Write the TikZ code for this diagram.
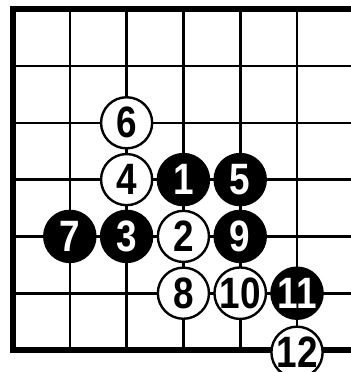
\documentclass[tikz,border=0pt]{standalone}
\usepackage{fontspec}
\newfontfamily\stonefont[FakeStretch=0.84]{Liberation Sans}

\begin{document}
\begin{tikzpicture}[x=1cm, y=1cm,
  gridline/.style={line width=1.3pt},
  boardedge/.style={line width=2.9pt, line join=miter},
  whitestone/.style={circle, draw, line width=1.2pt, fill=white, minimum size=0.9cm, inner sep=0pt,
    font=\stonefont\bfseries\fontsize{22}{22}\selectfont},
  blackstone/.style={whitestone, fill=black, text=white}]
\useasboundingbox (-0.229,-0.387) rectangle (5.933,6.162);

% Grid lines
\foreach \i in {1,...,5}
    \draw[gridline] (\i,0) -- (\i,6);
\foreach \j in {1,...,5}
    \draw[gridline] (0,\j) -- (5.95,\j);

% Board edge (bottom-left corner)
\draw[boardedge] (5.95,6) -- (0,6) -- (0,0) -- (5.95,0);

% Black stones
\foreach \n/\x/\y in {1/3/3, 3/2/2, 5/4/3, 7/1/2, 9/4/2, 11/5/1}
    \node[blackstone] (s\n) at (\x,\y) {\n};

% White stones
\foreach \n/\x/\y in {2/3/2, 4/2/3, 6/2/4, 8/3/1, 10/4/1, 12/5/-0.04}
    \node[whitestone] (s\n) at (\x,\y) {\n};
\end{tikzpicture}
\end{document}
